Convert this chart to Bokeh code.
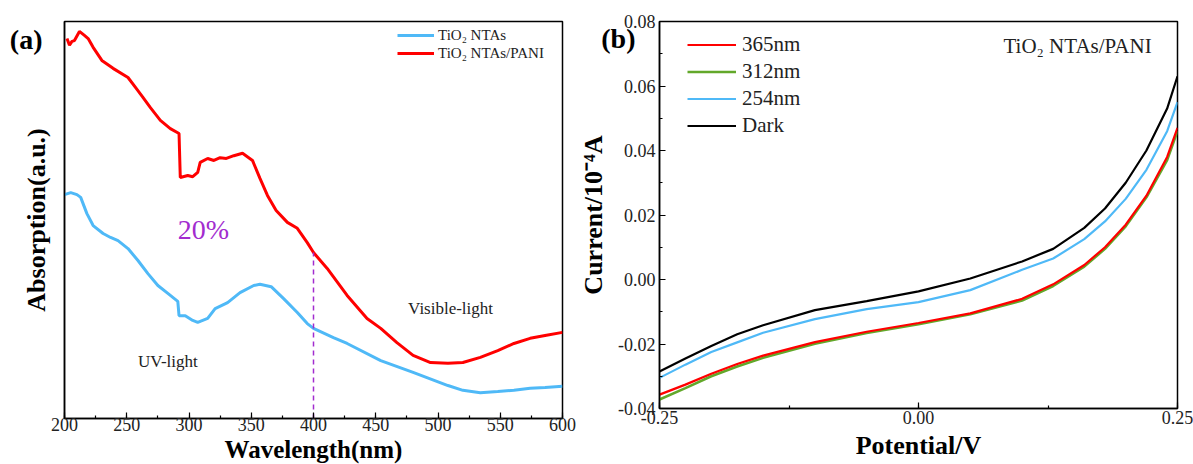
from bokeh.plotting import figure
from bokeh.layouts import row
from bokeh.models import (Range1d, SingleIntervalTicker, FixedTicker, NumeralTickFormatter,
                          Label, Legend, LegendItem, LinearAxis, GlobalInlineStyleSheet)
from bokeh.embed import file_html
from bokeh.resources import INLINE

FONT = "Liberation Serif"

# ---------------- Panel (a): UV-vis absorption ----------------
wl_pani = [202, 204, 206, 208, 212, 216, 219, 223, 230, 239, 251, 257, 263, 269, 277, 285, 292,
           293, 299, 303, 307, 309, 315, 320, 325, 330, 336, 343, 351, 357, 363, 370, 379, 387,
           395, 400, 411, 427, 443, 454, 467, 480, 494, 508, 520, 534, 548, 561, 574, 586, 600]
abs_pani = [0.957, 0.940, 0.950, 0.952, 0.975, 0.965, 0.957, 0.935, 0.902, 0.882, 0.859, 0.834,
            0.809, 0.783, 0.751, 0.730, 0.718, 0.607, 0.612, 0.609, 0.620, 0.645, 0.655, 0.650,
            0.657, 0.655, 0.662, 0.668, 0.650, 0.605, 0.562, 0.524, 0.494, 0.479, 0.443, 0.418,
            0.378, 0.310, 0.252, 0.227, 0.191, 0.159, 0.141, 0.139, 0.141, 0.154, 0.171, 0.189,
            0.202, 0.209, 0.217]

wl_tio2 = [200, 205, 210, 213, 218, 223, 231, 237, 243, 251, 259, 267, 275, 283, 289, 291, 292,
           297, 303, 307, 315, 321, 331, 341, 352, 357, 366, 376, 387, 395, 400, 416, 427, 454,
           480, 508, 520, 534, 548, 561, 574, 586, 600]
abs_tio2 = [0.564, 0.569, 0.564, 0.557, 0.516, 0.486, 0.466, 0.456, 0.448, 0.428, 0.398, 0.365,
            0.335, 0.315, 0.300, 0.295, 0.259, 0.259, 0.247, 0.242, 0.252, 0.277, 0.292, 0.317,
            0.335, 0.338, 0.332, 0.302, 0.267, 0.239, 0.227, 0.204, 0.189, 0.146, 0.116, 0.083,
            0.071, 0.065, 0.068, 0.071, 0.076, 0.078, 0.081]

edge_wl = 400
edge_abs = 0.418

# ---------------- Panel (b): I-V curves ----------------
potential = [-0.25, -0.225, -0.2, -0.175, -0.15, -0.1, -0.05, 0.0, 0.05, 0.1, 0.13, 0.16, 0.18,
             0.2, 0.22, 0.24, 0.25]
i_365 = [-0.0357, -0.0326, -0.0292, -0.0262, -0.0236, -0.0194, -0.0162, -0.0135, -0.0105,
         -0.0060, -0.0015, 0.0045, 0.0100, 0.0170, 0.0260, 0.0380, 0.0470]
i_312 = [-0.0372, -0.0337, -0.0300, -0.0270, -0.0243, -0.0199, -0.0166, -0.0139, -0.0108,
         -0.0065, -0.0020, 0.0040, 0.0095, 0.0165, 0.0255, 0.0370, 0.0460]
i_254 = [-0.0305, -0.0264, -0.0225, -0.0195, -0.0165, -0.0123, -0.0092, -0.0070, -0.0033,
         0.0030, 0.0065, 0.0125, 0.0180, 0.0250, 0.0340, 0.0460, 0.0550]
i_dark = [-0.0285, -0.0245, -0.0206, -0.0170, -0.0142, -0.0095, -0.0067, -0.0037, 0.0003,
          0.0056, 0.0095, 0.0160, 0.0220, 0.0300, 0.0400, 0.0530, 0.0630]

RED = "#ff0000"
BLUE = "#4fb9f7"
GREEN = "#62a82a"
PURPLE = "#a22ccf"


def style_axis(ax):
    ax.axis_line_color = "black"
    ax.axis_line_width = 1.5
    ax.major_tick_line_color = "black"
    ax.minor_tick_line_color = "black"
    ax.major_tick_line_width = 1.2
    ax.minor_tick_line_width = 1.2
    ax.major_tick_in = 6
    ax.major_tick_out = 0
    ax.minor_tick_in = 3
    ax.minor_tick_out = 0
    ax.major_label_text_font = FONT
    ax.major_label_text_font_size = "18px"
    ax.major_label_text_color = "#222222"
    ax.axis_label_text_font = FONT
    ax.axis_label_text_font_style = "bold"
    ax.axis_label_text_font_size = "26px"
    ax.axis_label_text_color = "black"


def style_fig(p):
    p.outline_line_color = "black"
    p.outline_line_width = 1.5
    p.outline_line_alpha = 1
    p.xgrid.visible = False
    p.ygrid.visible = False
    p.background_fill_color = "white"
    p.border_fill_color = "white"
    style_axis(p.xaxis[0])
    style_axis(p.yaxis[0])


def panel_tag_axis(ax):
    # axis used only to carry the panel letter as a bold tick label
    ax.axis_line_color = None
    ax.major_tick_line_color = None
    ax.minor_tick_line_color = None
    ax.major_label_text_font = FONT
    ax.major_label_text_font_style = "bold"
    ax.major_label_text_font_size = "28px"
    ax.major_label_text_color = "black"
    ax.axis_label_text_font = FONT
    ax.axis_label_text_font_style = "bold"
    ax.axis_label_text_font_size = "26px"
    ax.axis_label_text_color = "black"


# ---------- figure (a) ----------
p1 = figure(frame_width=498, frame_height=397, output_backend="svg", toolbar_location=None,
            x_range=Range1d(200, 600), y_range=Range1d(0, 1),
            min_border_left=64, min_border_right=14, min_border_top=16, min_border_bottom=51)
style_fig(p1)
p1.xaxis.ticker = SingleIntervalTicker(interval=50, num_minor_ticks=2)
p1.xaxis.axis_label = "Wavelength(nm)"
p1.xaxis.major_label_standoff = -1
p1.xaxis.axis_label_standoff = 2
p1.xaxis.axis_label_text_font_size = "25px"

ya = p1.yaxis[0]
panel_tag_axis(ya)
ya.axis_line_color = "black"
ya.axis_line_width = 1.5
ya.ticker = FixedTicker(ticks=[0.955])
ya.major_label_overrides = {0.955: "(a)"}
ya.major_label_standoff = 22
ya.axis_label = "Absorption(a.u.)"
ya.axis_label_standoff = -44

r_tio2 = p1.line(wl_tio2, abs_tio2, line_color=BLUE, line_width=3)
r_pani = p1.line(wl_pani, abs_pani, line_color=RED, line_width=3)
p1.line([edge_wl, edge_wl], [0, edge_abs], line_color=PURPLE, line_width=1.5, line_dash="5 4")

leg1 = Legend(items=[LegendItem(label="TiO₂ NTAs", renderers=[r_tio2]),
                     LegendItem(label="TiO₂ NTAs/PANI", renderers=[r_pani])],
              location=(333, 356), padding=0, margin=0, spacing=0,
              glyph_width=37, glyph_height=18, label_height=18, label_standoff=4,
              label_text_font=FONT, label_text_font_size="15px", label_text_color="#222222",
              border_line_color=None, background_fill_alpha=0)
p1.add_layout(leg1)

p1.add_layout(Label(x=291, y=0.476, text="20%", text_font=FONT, text_font_size="28px",
                    text_color=PURPLE, text_baseline="middle", text_align="left"))
p1.add_layout(Label(x=259, y=0.143, text="UV-light", text_font=FONT, text_font_size="17px",
                    text_color="#222222", text_baseline="middle", text_align="left"))
p1.add_layout(Label(x=476, y=0.278, text="Visible-light", text_font=FONT, text_font_size="17px",
                    text_color="#222222", text_baseline="middle", text_align="left"))

# ---------- figure (b) ----------
p2 = figure(frame_width=518, frame_height=387, output_backend="svg", toolbar_location=None,
            x_range=Range1d(-0.25, 0.25), y_range=Range1d(-0.04, 0.08),
            min_border_left=83, min_border_right=16, min_border_top=21, min_border_bottom=56)
style_fig(p2)
p2.xaxis.ticker = SingleIntervalTicker(interval=0.25, num_minor_ticks=2)
p2.yaxis.ticker = SingleIntervalTicker(interval=0.02, num_minor_ticks=2)
p2.xaxis.formatter = NumeralTickFormatter(format="0.00")
p2.yaxis.formatter = NumeralTickFormatter(format="0.00")
p2.xaxis.axis_label = "Potential/V"
p2.xaxis.major_label_standoff = 2
p2.xaxis.axis_label_standoff = 4
p2.yaxis.major_label_standoff = 4

yb = LinearAxis(ticker=FixedTicker(ticks=[0.0746]), major_label_overrides={0.0746: "(b)"})
panel_tag_axis(yb)
yb.major_label_standoff = -26
yb.axis_label = "Current/10⁻⁴A"
yb.axis_label_standoff = -10
p2.add_layout(yb, "left")

r_dark = p2.line(potential, i_dark, line_color="black", line_width=2.2)
r_254 = p2.line(potential, i_254, line_color=BLUE, line_width=2.2)
r_312 = p2.line(potential, i_312, line_color=GREEN, line_width=2.6)
r_365 = p2.line(potential, i_365, line_color=RED, line_width=2.2)

leg2 = Legend(items=[LegendItem(label="365nm", renderers=[r_365]),
                     LegendItem(label="312nm", renderers=[r_312]),
                     LegendItem(label="254nm", renderers=[r_254]),
                     LegendItem(label="Dark", renderers=[r_dark])],
              location=(28, 269), padding=0, margin=0, spacing=0,
              glyph_width=49, glyph_height=27, label_height=27, label_standoff=6,
              label_text_font=FONT, label_text_font_size="21px", label_text_color="#222222",
              border_line_color=None, background_fill_alpha=0)
p2.add_layout(leg2)

p2.add_layout(Label(x=0.082, y=0.0725, text="TiO₂ NTAs/PANI", text_font=FONT,
                    text_font_size="21px", text_color="#222222", text_baseline="middle",
                    text_align="left"))

layout = row(p1, p2, spacing=0)
layout.stylesheets = [GlobalInlineStyleSheet(css="html, body { overflow: hidden; }")]

open("out.html", "w").write(file_html(layout, INLINE))
